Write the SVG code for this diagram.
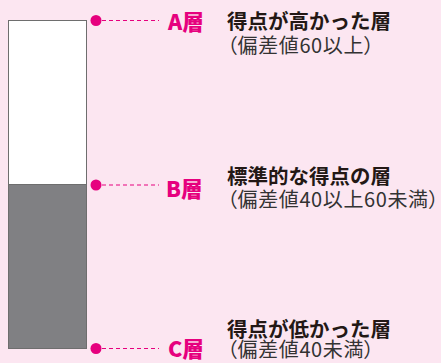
<svg xmlns="http://www.w3.org/2000/svg" width="441" height="363" viewBox="0 0 441 363">
<style>
.dot{fill:#e6007e}
.dash{stroke:#e6007e;stroke-width:1;stroke-dasharray:4 3;fill:none}
.lbl{font-family:"Noto Sans CJK JP","Liberation Sans",sans-serif;font-weight:900;font-size:21.5px;fill:#e6007e}
.ttl{font-family:"Noto Sans CJK JP",sans-serif;font-weight:700;font-size:20.5px;fill:#231815}
.sub{font-family:"Noto Sans CJK JP",sans-serif;font-weight:400;font-size:20px;fill:#333333;letter-spacing:0.6px;font-feature-settings:"palt" 1}
</style>
<rect width="441" height="363" fill="#fce6f1"/>
<g id="bar">
<rect x="8.5" y="20.5" width="78" height="164" fill="#ffffff" stroke="#6e6e6e" stroke-width="1"/>
<rect x="8.5" y="184.5" width="78" height="164" fill="#808083" stroke="#6e6e6e" stroke-width="1"/>
</g>
<g id="connectors">
<line class="dash" x1="102" y1="20.5" x2="159" y2="20.5"/>
<line class="dash" x1="102" y1="185" x2="159" y2="185"/>
<line class="dash" x1="102" y1="348.5" x2="159" y2="348.5"/>
</g>
<g id="layerA">
<circle class="dot" cx="96" cy="20.5" r="5.5"/>
<text class="lbl" x="168" y="30">A層</text>
<text class="ttl" x="227" y="29">得点が高かった層</text>
<text class="sub" x="227" y="53">（偏差値60以上）</text>
</g>
<g id="layerB">
<circle class="dot" cx="96" cy="185" r="5.5"/>
<text class="lbl" x="166" y="197">B層</text>
<text class="ttl" x="227" y="184">標準的な得点の層</text>
<text class="sub" x="227" y="207">（偏差値40以上60未満）</text>
</g>
<g id="layerC">
<circle class="dot" cx="96" cy="348.5" r="5.5"/>
<text class="lbl" x="168" y="357">C層</text>
<text class="ttl" x="227" y="337">得点が低かった層</text>
<text class="sub" x="227" y="357">（偏差値40未満）</text>
</g>
</svg>
